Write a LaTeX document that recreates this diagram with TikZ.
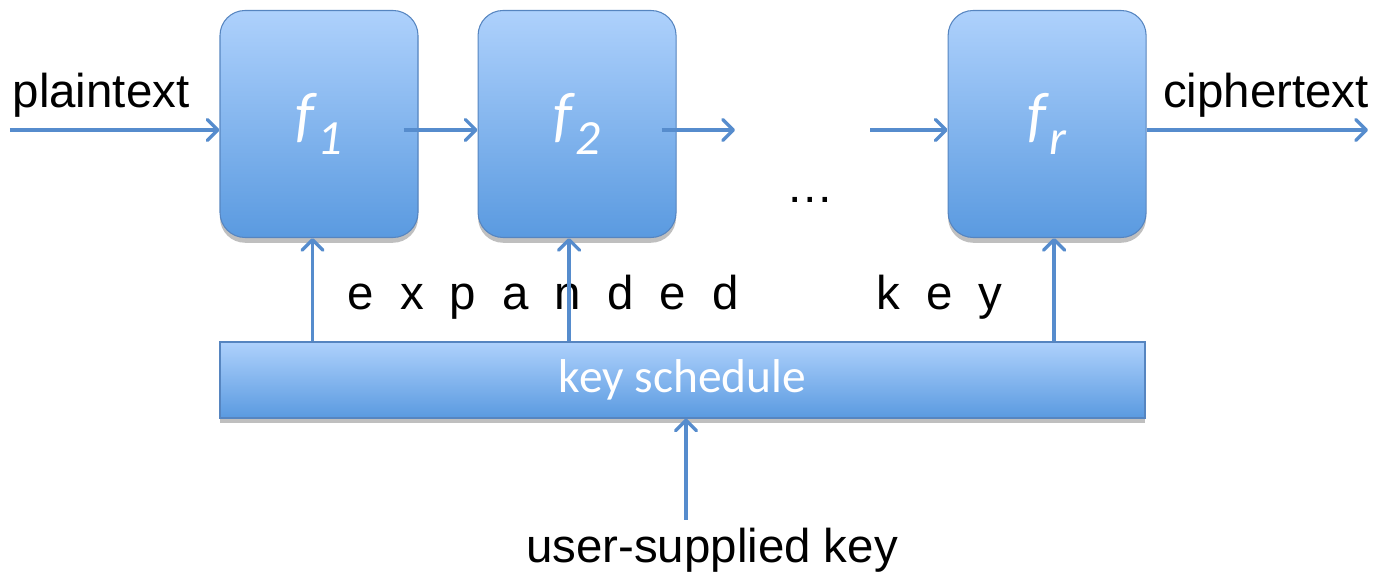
\documentclass[tikz,border=0pt]{standalone}
\usepackage{fontspec}
\setmainfont{Liberation Sans}
\newfontfamily\calib{Carlito}
\usetikzlibrary{arrows.meta,positioning,shadows}

\definecolor{boxtop}{RGB}{174,209,252}
\definecolor{boxbot}{RGB}{90,154,224}
\definecolor{boxline}{RGB}{86,133,192}
\definecolor{arrowblue}{RGB}{86,140,205}

% round label: f with a lowered index
\newcommand{\rndf}[1]{f\kern0.06em\raisebox{-0.32em}{\fontsize{28}{28}\selectfont #1}}

\begin{document}
\begin{tikzpicture}[
    > = {Straight Barb[length=6pt,width=12pt,round]}, % arrow head style
    line width = 1.9pt,
    node distance = 1.18cm, % gap between round boxes
    round box/.style={rectangle, rounded corners=0.5cm, draw=boxline, line width=0.6pt,
      minimum width=3.96cm, minimum height=4.54cm, top color=boxtop, bottom color=boxbot,
      drop shadow={shadow xshift=0pt, shadow yshift=-3pt, opacity=0.25, fill=black},
      text=white, font=\calib\itshape\fontsize{35}{35}\selectfont},
    sched box/.style={rectangle, draw=boxline, line width=0.6pt,
      minimum width=18.5cm, minimum height=1.52cm, top color=boxtop, bottom color=boxbot,
      drop shadow={shadow xshift=0pt, shadow yshift=-3pt, opacity=0.25, fill=black},
      text=white, font=\calib\fontsize{27}{30}\selectfont},
    label/.style={font=\fontsize{27}{30}\selectfont, inner sep=0pt},
    link/.style={->, draw=arrowblue}
  ]
  \useasboundingbox (0,0) rectangle (27.54,11.46);

  % Nodes
  \node[round box] (f1) at (6.38,8.98) {\rndf{1}};
  \node[round box, right=of f1] (f2) {\rndf{2}};
  \node[round box, right=5.42cm of f2] (fr) {\rndf{r}};
  \node[sched box] (ks) at (13.65,3.86) {key schedule};

  \node[label] (pt) at (2.02,9.56) {plaintext};
  \node[label] (ct) at (25.32,9.56) {ciphertext};
  \node[label] (uk) at (14.24,0.46) {user-supplied key};
  \node[label] (dots) at (16.2,7.46) {…};
  \node[label, font=\fontsize{27}{30}\selectfont\addfontfeature{LetterSpace=55}]
    (ek) at (13.5,5.52) {expanded\hspace{2.9em}key};

  \coordinate (in) at (0.2,8.86);
  \coordinate (out) at (27.36,8.86);
  \coordinate (gapL) at (14.7,8.86);
  \coordinate (gapR) at (17.4,8.86);
  \coordinate (ukey) at (13.72,1.06);

  % Edges
  \draw[link] (in) -- (in -| f1.west);
  \draw[link] ([xshift=-0.3cm,yshift=-0.12cm]f1.east) -- ([yshift=-0.12cm]f2.west);
  \draw[link] ([xshift=-0.3cm,yshift=-0.12cm]f2.east) -- (gapL);
  \draw[link] (gapR) -- (gapR -| fr.west);
  \draw[link] ([yshift=-0.12cm]fr.east) -- (out);

  \draw[link] ([xshift=-0.13cm]f1.south |- ks.north) -- ([xshift=-0.13cm]f1.south);
  \draw[link] ([xshift=-0.16cm]f2.south |- ks.north) -- ([xshift=-0.16cm]f2.south);
  \draw[link] ([xshift=0.14cm]fr.south |- ks.north) -- ([xshift=0.14cm]fr.south);
  \draw[link] (ukey) -- (ukey |- ks.south);
\end{tikzpicture}
\end{document}
